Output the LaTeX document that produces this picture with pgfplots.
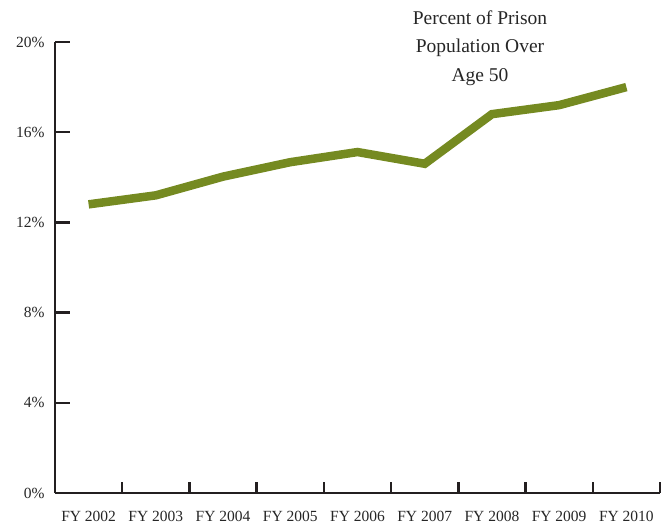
\documentclass[border=0pt]{standalone}
\usepackage{fontspec}
\setmainfont{Liberation Serif}
\usepackage{pgfplots}
\pgfplotsset{compat=1.18}
\definecolor{olivegreen}{RGB}{117,138,33}
\definecolor{axisgray}{RGB}{35,31,32}

\begin{document}
\begin{tikzpicture}[x=1pt,y=1pt]
  \useasboundingbox (0,0) rectangle (668,525);
  \begin{axis}[
    at={(55pt,32pt)}, anchor=south west,
    scale only axis, width=605pt, height=451pt,
    xmin=-0.5, xmax=8.5, ymin=0, ymax=20,
    axis x line=bottom, axis y line=left,
    axis line style={-, line width=2.4pt, axisgray},
    ytick={0,4,...,20},
    yticklabel={\pgfmathprintnumber{\tick}\%},
    xtick={0,...,8},
    xticklabels={FY 2002, FY 2003, FY 2004, FY 2005, FY 2006, FY 2007, FY 2008, FY 2009, FY 2010},
    minor xtick={0.5,1.5,...,8.5},
    tick style={line width=2.4pt, axisgray},
    major x tick style={draw=none},
    major tick length=15pt, minor tick length=11pt,
    tick align=inside,
    tick label style={font=\fontsize{15.5}{18}\selectfont, black!85},
    /pgf/number format/assume math mode=true,
    xticklabel style={yshift=-15pt},
    yticklabel style={xshift=-7pt},
    clip=false,
  ]
  \addplot[olivegreen, line width=8.5pt] coordinates {
    (0,12.8) (1,13.2) (2,14.03) (3,14.67) (4,15.12)
    (5,14.6) (6,16.8) (7,17.2) (8,18.0)
  };
  \end{axis}
  \node[align=center, font=\fontsize{19.5}{28.5}\selectfont, black!85] at (480,477) {Percent of Prison\\Population Over\\Age 50};
\end{tikzpicture}
\end{document}
